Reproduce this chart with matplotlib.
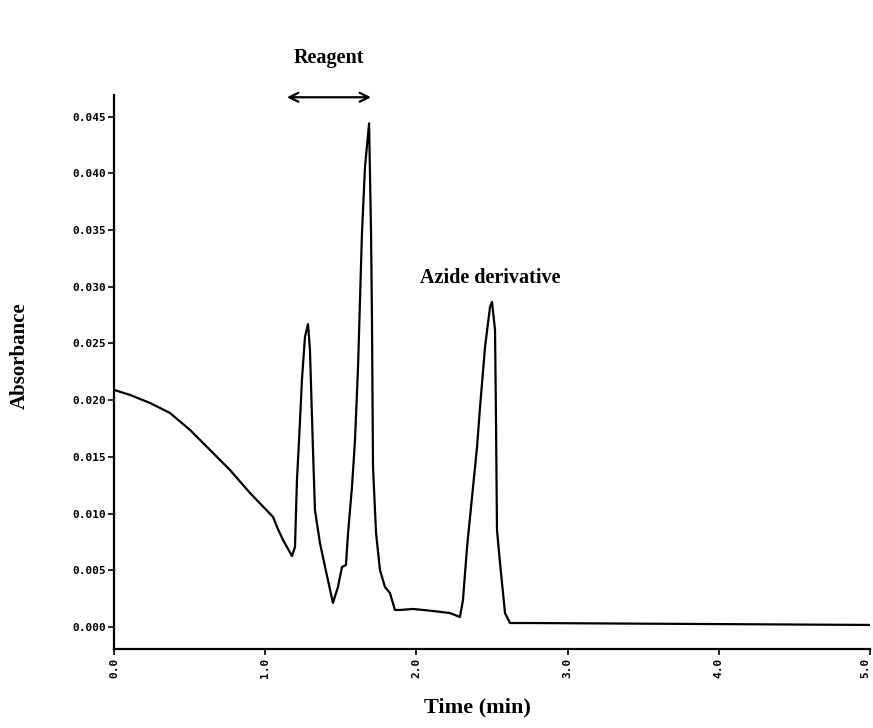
import matplotlib
matplotlib.use("Agg")
import matplotlib.pyplot as plt

# Chromatogram trace (time in min, absorbance)
time_min = [0.0, 0.106, 0.238, 0.370, 0.503, 0.635, 0.767, 0.899, 1.052, 1.078,
            1.118, 1.177, 1.197, 1.210, 1.224, 1.243, 1.263, 1.283, 1.296, 1.316,
            1.329, 1.362, 1.396, 1.448, 1.481, 1.508, 1.534, 1.548, 1.574, 1.594,
            1.614, 1.640, 1.660, 1.687, 1.700, 1.706, 1.713, 1.733, 1.759, 1.792,
            1.825, 1.858, 1.892, 1.978, 2.110, 2.222, 2.288, 2.308, 2.335, 2.368,
            2.401, 2.421, 2.454, 2.487, 2.500, 2.520, 2.526, 2.533, 2.553, 2.586,
            2.619, 2.751, 5.0]
absorbance = [0.0209, 0.02046, 0.01975, 0.01887, 0.01737, 0.01561, 0.01384, 0.01182, 0.00970, 0.00882,
              0.00767, 0.00626, 0.00705, 0.01296, 0.01649, 0.02178, 0.02557, 0.02670, 0.02443, 0.01561,
              0.01032, 0.00741, 0.00529, 0.00212, 0.00353, 0.00529, 0.00547, 0.00829, 0.01235, 0.01649,
              0.02293, 0.03474, 0.04056, 0.04440, 0.03474, 0.02734, 0.01411, 0.00829, 0.00503, 0.00353,
              0.00300, 0.00150, 0.00150, 0.00159, 0.00141, 0.00123, 0.00088, 0.00238, 0.00705, 0.01146,
              0.01587, 0.01940, 0.02469, 0.02822, 0.02866, 0.02619, 0.01887, 0.00855, 0.00564, 0.00123,
              0.00035, 0.00035, 0.00018]

x_ticks = [0.0, 1.0, 2.0, 3.0, 4.0, 5.0]
x_tick_labels = ["0.0", "1.0", "2.0", "3.0", "4.0", "5.0"]
y_ticks = [0.000, 0.005, 0.010, 0.015, 0.020, 0.025, 0.030, 0.035, 0.040, 0.045]
y_tick_labels = ["0.000", "0.005", "0.010", "0.015", "0.020", "0.025", "0.030", "0.035", "0.040", "0.045"]

x_label = "Time (min)"
y_label = "Absorbance"
reagent_label = "Reagent"
azide_label = "Azide derivative"
reagent_range = [1.144, 1.700]

serif = ["Liberation Serif", "DejaVu Serif"]

fig = plt.figure(figsize=(8.73, 7.28), dpi=100)
ax = fig.add_axes([114 / 873, 79 / 728, 756 / 873, (649 - 95) / 728])

ax.plot(time_min, absorbance, color="black", lw=1.6, solid_joinstyle="round")

ax.set_xlim(0, 5)
ax.set_ylim(-0.00194, 0.0469)

for s in ["top", "right"]:
    ax.spines[s].set_visible(False)
for s in ["left", "bottom"]:
    ax.spines[s].set_linewidth(1.6)

ax.set_xticks(x_ticks)
ax.set_xticklabels(x_tick_labels, rotation=90, family="DejaVu Sans Mono",
                   fontweight="bold", fontsize=8)
ax.get_xticklabels()[-1].set_horizontalalignment("right")
ax.set_yticks(y_ticks)
ax.set_yticklabels(y_tick_labels, family="DejaVu Sans Mono",
                   fontweight="bold", fontsize=8)
ax.tick_params(axis="both", direction="out", length=4, width=1.2, pad=2)

ax.set_xlabel(x_label, family=serif, fontweight="bold", fontsize=16)
ax.xaxis.set_label_coords((477 - 114) / 756, -0.088)
ax.set_ylabel(y_label, family=serif, fontweight="bold", fontsize=15)
ax.yaxis.set_label_coords(-0.111, 0.529)

ax.annotate("", xy=(reagent_range[0], 0.0467), xytext=(reagent_range[1], 0.0467),
            arrowprops=dict(arrowstyle="<->", color="black", lw=1.6,
                            mutation_scale=16, shrinkA=0, shrinkB=0),
            annotation_clip=False)
ax.text(sum(reagent_range) / 2, 0.0502, reagent_label, family=serif,
        fontweight="bold", fontsize=14.5, ha="center", va="center", clip_on=False)
ax.text(2.49, 0.0308, azide_label, family=serif, fontweight="bold",
        fontsize=14.5, ha="center", va="center")

fig.savefig("out.png", dpi=100)
